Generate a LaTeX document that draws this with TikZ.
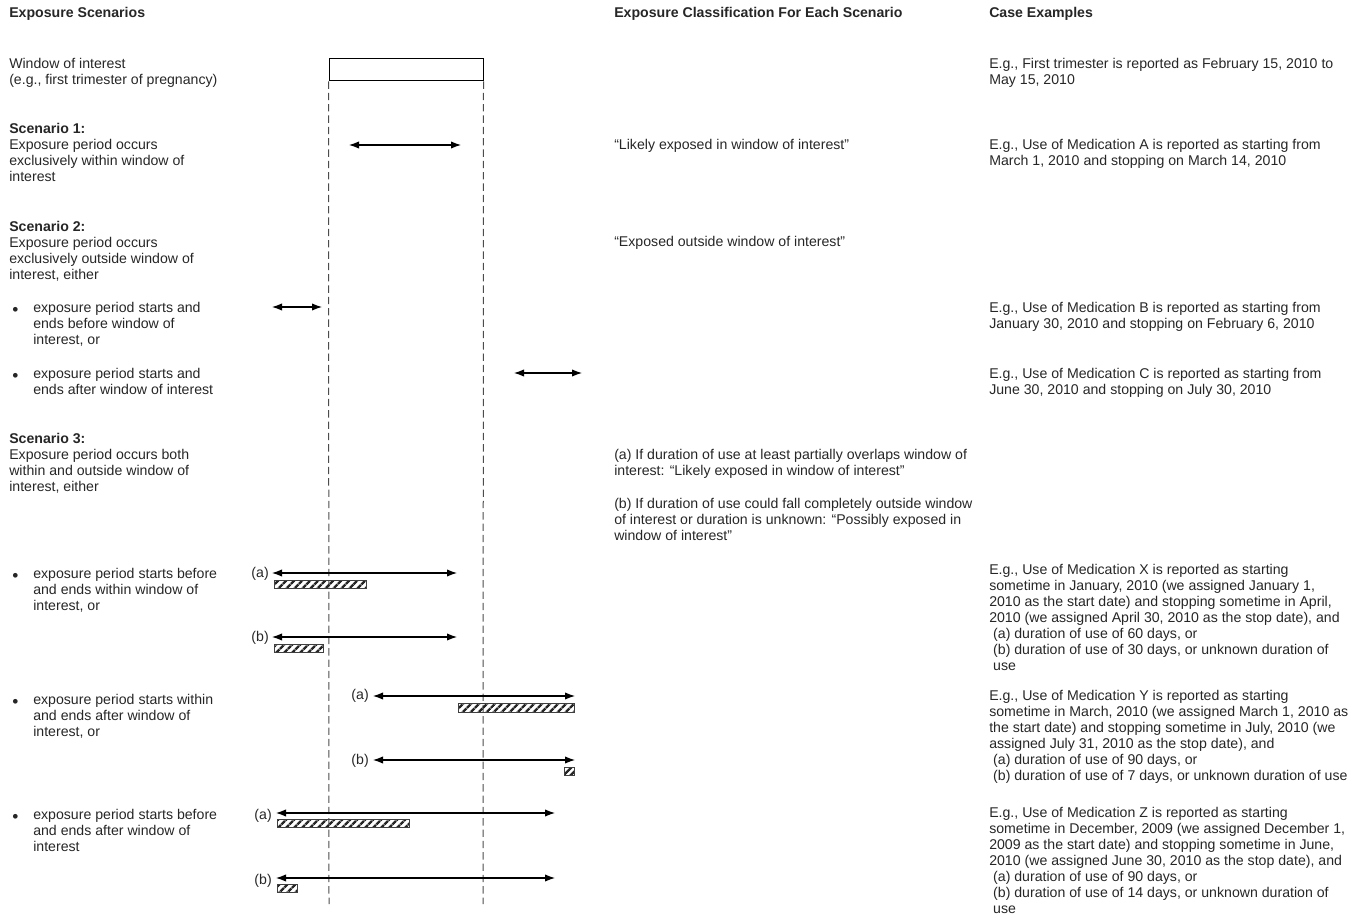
\documentclass[tikz,border=0pt]{standalone}
\usepackage{fontspec}
\setmainfont{Liberation Sans}
\usetikzlibrary{arrows.meta,patterns.meta}
\begin{document}
\begin{tikzpicture}[x=0.75pt,y=-0.75pt,
 txt/.style={anchor=north west,inner sep=0pt,align=left,font=\fontsize{10.6}{12}\selectfont,text=black!85},
 hdr/.style={txt,font=\fontsize{10.6}{12}\selectfont\bfseries},
 lab/.style={anchor=east,inner sep=0pt,font=\fontsize{10.6}{12}\selectfont,text=black!85},
 bul/.style={anchor=center,inner sep=0pt,font=\fontsize{13}{13}\selectfont,text=black!85},
 span/.style={line width=0.8pt,{Latex[length=7.5pt,width=5.5pt]}-{Latex[length=7.5pt,width=5.5pt]}},
 hatch/.style={draw=black!75,line width=0.7pt,pattern={Lines[angle=45,distance=4pt,line width=1.9pt]},pattern color=black!85},
 guide/.style={black!70,line width=0.75pt,dash pattern=on 5.5pt off 3pt}]
\useasboundingbox (0,0) rectangle (1360,916);

% headers
\node[hdr] (h1) at (9,7) {Exposure Scenarios};
\node[hdr] (h2) at (614,7) {Exposure Classification For Each Scenario};
\node[hdr] (h3) at (989,7) {Case Examples};

% window box and guides
\node[draw,line width=0.75pt,inner sep=0pt,minimum width=115.5pt,minimum height=16.5pt] (winbox) at (406,70) {};
\coordinate (gl) at (329,904);
\coordinate (gr) at (483,904);
\draw[guide] (winbox.south west) -- (gl);
\draw[guide] (winbox.south east) -- (gr);

% left column
\node[txt] (tw) at (9,58) {Window of interest\\(e.g., first trimester of pregnancy)};
\node[txt] (ts1) at (9,123) {\textbf{Scenario 1:}\\Exposure period occurs\\exclusively within window of\\interest};
\node[txt] (ts2) at (9,221) {\textbf{Scenario 2:}\\Exposure period occurs\\exclusively outside window of\\interest, either};
\node[bul] (k21) at (15.5,311) {•};
\node[txt] (t21) at (33,302) {exposure period starts and\\ends before window of\\interest, or};
\node[bul] (k22) at (15.5,377) {•};
\node[txt] (t22) at (33,368) {exposure period starts and\\ends after window of interest};
\node[txt] (ts3) at (9,433) {\textbf{Scenario 3:}\\Exposure period occurs both\\within and outside window of\\interest, either};
\node[bul] (k31) at (15.5,577) {•};
\node[txt] (t31) at (33,568) {exposure period starts before\\and ends within window of\\interest, or};
\node[bul] (k32) at (15.5,703) {•};
\node[txt] (t32) at (33,694) {exposure period starts within\\and ends after window of\\interest, or};
\node[bul] (k33) at (15.5,818) {•};
\node[txt] (t33) at (33,809) {exposure period starts before\\and ends after window of\\interest};

% middle column
\node[txt] (m1) at (614,139) {“Likely exposed in window of interest”};
\node[txt] (m2) at (614,236) {“Exposed outside window of interest”};
\node[txt] (m3a) at (614,449) {(a) If duration of use at least partially overlaps window of\\interest: “Likely exposed in window of interest”};
\node[txt] (m3b) at (614,498) {(b) If duration of use could fall completely outside window\\of interest or duration is unknown: “Possibly exposed in\\window of interest”};

% right column
\node[txt] (r0) at (989,58) {E.g., First trimester is reported as February 15, 2010 to\\May 15, 2010};
\node[txt] (rA) at (989,139) {E.g., Use of Medication A is reported as starting from\\March 1, 2010 and stopping on March 14, 2010};
\node[txt] (rB) at (989,302) {E.g., Use of Medication B is reported as starting from\\January 30, 2010 and stopping on February 6, 2010};
\node[txt] (rC) at (989,368) {E.g., Use of Medication C is reported as starting from\\June 30, 2010 and stopping on July 30, 2010};
\node[txt] (rX) at (989,564) {E.g., Use of Medication X is reported as starting\\sometime in January, 2010 (we assigned January 1,\\2010 as the start date) and stopping sometime in April,\\2010 (we assigned April 30, 2010 as the stop date), and\\\ (a) duration of use of 60 days, or\\\ (b) duration of use of 30 days, or unknown duration of\\\ use};
\node[txt] (rY) at (989,690) {E.g., Use of Medication Y is reported as starting\\sometime in March, 2010 (we assigned March 1, 2010 as\\the start date) and stopping sometime in July, 2010 (we\\assigned July 31, 2010 as the stop date), and\\\ (a) duration of use of 90 days, or\\\ (b) duration of use of 7 days, or unknown duration of use};
\node[txt] (rZ) at (989,807) {E.g., Use of Medication Z is reported as starting\\sometime in December, 2009 (we assigned December 1,\\2009 as the start date) and stopping sometime in June,\\2010 (we assigned June 30, 2010 as the stop date), and\\\ (a) duration of use of 90 days, or\\\ (b) duration of use of 14 days, or unknown duration of\\\ use};

% scenario 1
\coordinate (a1l) at (349,145); \coordinate (a1r) at (461,145);
\draw[span] (a1l) -- (a1r);
% scenario 2
\coordinate (a21l) at (272,307); \coordinate (a21r) at (322,307);
\draw[span] (a21l) -- (a21r);
\coordinate (a22l) at (514,373); \coordinate (a22r) at (582,373);
\draw[span] (a22l) -- (a22r);

% scenario 3, bullet 1
\coordinate (p1al) at (272,573); \coordinate (p1ar) at (457,573);
\node[lab] (l1a) at (269,574) {(a)};
\draw[span] (p1al) -- (p1ar);
\draw[hatch] (274,580) rectangle (366,588);
\coordinate (p1bl) at (272,637); \coordinate (p1br) at (457,637);
\node[lab] (l1b) at (269,638) {(b)};
\draw[span] (p1bl) -- (p1br);
\draw[hatch] (274,644) rectangle (323,652);

% scenario 3, bullet 2
\coordinate (p2al) at (373,696); \coordinate (p2ar) at (575,696);
\node[lab] (l2a) at (369,696) {(a)};
\draw[span] (p2al) -- (p2ar);
\draw[hatch] (458,703) rectangle (574,712);
\coordinate (p2bl) at (373,760); \coordinate (p2br) at (575,760);
\node[lab] (l2b) at (369,761) {(b)};
\draw[span] (p2bl) -- (p2br);
\draw[hatch] (564,767) rectangle (574,775);

% scenario 3, bullet 3
\coordinate (p3al) at (276,813); \coordinate (p3ar) at (555,813);
\node[lab] (l3a) at (272,816) {(a)};
\draw[span] (p3al) -- (p3ar);
\draw[hatch] (277,819) rectangle (409,827);
\coordinate (p3bl) at (276,878); \coordinate (p3br) at (555,878);
\node[lab] (l3b) at (272,881) {(b)};
\draw[span] (p3bl) -- (p3br);
\draw[hatch] (277,884) rectangle (297,892);
\end{tikzpicture}
\end{document}
